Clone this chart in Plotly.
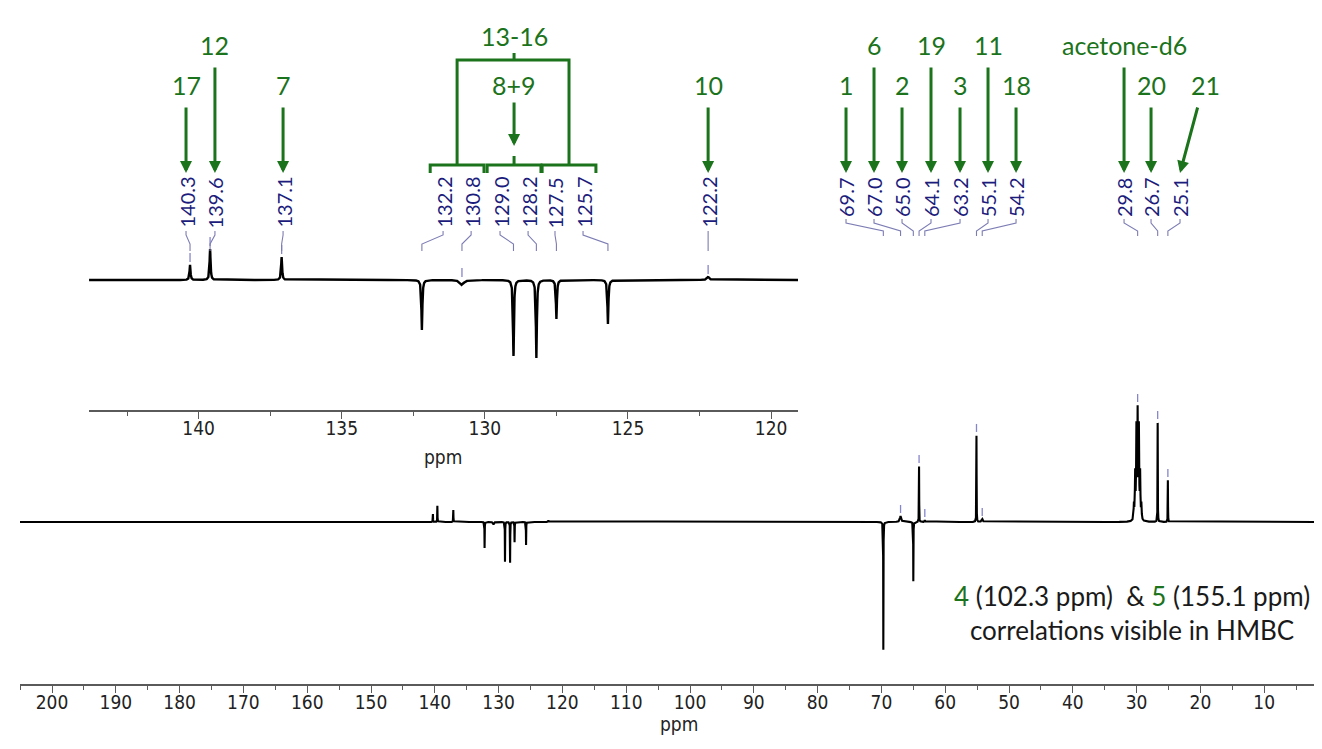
import numpy as np
import plotly.graph_objects as go

# ---------------- data ----------------
# aromatic region (also shown in the expanded inset)
arom_ppm = [140.3, 139.6, 137.1, 132.2, 130.8, 129.0, 128.2, 127.5, 125.7, 122.2]
arom_int = [7.9, 16.3, 12.1, -26.3, -2.6, -40.0, -41.0, -20.5, -23.2, 1.6]
arom_hw = [0.02, 0.02, 0.02, 0.02, 0.08, 0.02, 0.02, 0.02, 0.02, 0.05]

# aliphatic region
aliph_ppm = [69.7, 67.0, 65.0, 64.1, 63.2, 55.1, 54.2, 26.7, 25.1]
aliph_int = [-129.0, 6.0, -60.0, 56.0, 2.0, 87.0, 3.0, 100.0, 42.0]
aliph_hw = [0.02, 0.12, 0.02, 0.02, 0.05, 0.02, 0.1, 0.02, 0.02]

# acetone-d6 septet
solv_ppm = 29.84
solv_J = 0.195
solv_rel = [1, 3, 6, 7, 6, 3, 1]
solv_unit = 14.9
solv_hw = 0.05

inset_label_text = ["140.3", "139.6", "137.1", "132.2", "130.8", "129.0", "128.2", "127.5", "125.7", "122.2"]
inset_label_peak = [140.3, 139.6, 137.1, 132.2, 130.8, 129.0, 128.2, 127.5, 125.7, 122.2]
main_label_text = ["69.7", "67.0", "65.0", "64.1", "63.2", "55.1", "54.2", "29.8", "26.7", "25.1"]
main_label_peak = [69.7, 67.0, 65.0, 64.1, 63.2, 55.1, 54.2, 29.84, 26.7, 25.1]

inset_assign = [("17", 0, 2), ("12", 1, 1), ("7", 2, 2), ("10", 9, 2)]
main_assign = [("1", 0, 2), ("6", 1, 1), ("2", 2, 2), ("19", 3, 1), ("3", 4, 2),
               ("11", 5, 1), ("18", 6, 2), ("acetone-d6", 7, 1), ("20", 8, 2)]

main_ticks = list(range(0, 201, 10))
inset_ticks = [120, 125, 130, 135, 140]

# ---------------- layout constants ----------------
W, H = 1322, 749
GREEN = "#1b731b"
NAVY = "#1c1c7c"
LEAD = "#7c7cb4"
TICKBLUE = "#8585cc"
AXC = "#5a5a5a"
FONT_LBL = "Lato, 'Open Sans', sans-serif"
FONT_AX = "'DejaVu Sans Condensed', 'DejaVu Sans', sans-serif"

MAIN_RANGE = [205.02, -0.31]
INSET_RANGE = [143.83, 119.06]
MAIN_BASE, INSET_BASE = 514, 272
INSET_SCALE = 1.9
MAIN_AXIS_Y, INSET_AXIS_Y = 677, 403

# label columns (positions in ppm of their own axis)
inset_label_x = [140.44, 139.43, 137.05, 131.46, 130.48, 129.47, 128.49, 127.55, 126.57, 122.2]
main_label_x = [75.55, 71.16, 66.77, 62.23, 57.68, 53.29, 48.90, 31.97, 27.74, 23.2]


def py(y):
    return 1 - y / H


def lorentz_sum(x, centers, amps, hws):
    c = np.asarray(centers)[:, None]
    a = np.asarray(amps)[:, None]
    w = np.asarray(hws)[:, None]
    return (a / (1 + ((x[None, :] - c) / w) ** 2)).sum(axis=0)


all_ppm = list(arom_ppm) + list(aliph_ppm)
all_int = list(arom_int) + list(aliph_int)
all_hw = list(arom_hw) + list(aliph_hw)
for k, r in enumerate(solv_rel):
    all_ppm.append(solv_ppm + (k - 3) * solv_J)
    all_int.append(r * solv_unit)
    all_hw.append(solv_hw)


def spectrum(x):
    return lorentz_sum(x, all_ppm, all_int, all_hw)


x_main = np.arange(MAIN_RANGE[1], MAIN_RANGE[0], 0.004)
y_main = spectrum(x_main)
x_ins = np.arange(INSET_RANGE[1], INSET_RANGE[0], 0.004)
y_ins = spectrum(x_ins)

fig = go.Figure()
fig.add_trace(go.Scatter(x=x_main, y=y_main, mode="lines", xaxis="x", yaxis="y",
                         line=dict(color="black", width=2.1), hoverinfo="skip"))
fig.add_trace(go.Scatter(x=x_ins, y=y_ins, mode="lines", xaxis="x2", yaxis="y2",
                         line=dict(color="black", width=2.4), hoverinfo="skip"))

# small blue marks above peaks (main spectrum)
tx, ty = [], []
for p in main_label_peak:
    v = float(spectrum(np.array([p]))[0])
    if v > 0:
        tx += [p, p, None]
        ty += [v + 3, v + 11, None]
fig.add_trace(go.Scatter(x=tx, y=ty, mode="lines", xaxis="x", yaxis="y",
                         line=dict(color=TICKBLUE, width=1.3), hoverinfo="skip"))
# inset marks
tx, ty = [], []
for p in inset_label_peak:
    v = float(spectrum(np.array([p]))[0])
    if v > -5:
        top = max(v, 0)
        tx += [p, p, None]
        ty += [top + 3 / INSET_SCALE, top + 12 / INSET_SCALE, None]
fig.add_trace(go.Scatter(x=tx, y=ty, mode="lines", xaxis="x2", yaxis="y2",
                         line=dict(color=TICKBLUE, width=1.3), hoverinfo="skip"))

shapes = []
ann = []


def add_labels(texts, lx, peaks, xref, top_px, y_lead):
    for t, xl, p in zip(texts, lx, peaks):
        ann.append(dict(x=xl, y=py(top_px), xref=xref, yref="paper", text=t, textangle=-90,
                        showarrow=False, xanchor="center", yanchor="top",
                        font=dict(family=FONT_LBL, size=20, color=NAVY)))
        y0, y1, y2, y3 = y_lead
        shapes.append(dict(type="path", xref=xref, yref="paper",
                           path=f"M {xl},{py(y0)} L {xl},{py(y1)} L {p},{py(y2)} L {p},{py(y3)}",
                           line=dict(color=LEAD, width=1.1)))


add_labels(inset_label_text, inset_label_x, inset_label_peak, "x2", 167, (223, 227, 236, 243))
add_labels(main_label_text, main_label_x, main_label_peak, "x", 167, (211, 215, 223, 228))

ROW_Y = {1: 37, 2: 77}
ARROW_TAIL = {1: 58, 2: 98}
TIP = 165


def green_text(x, xref, y, t):
    ann.append(dict(x=x, y=py(y), xref=xref, yref="paper", text=t, showarrow=False,
                    xanchor="center", yanchor="middle",
                    font=dict(family=FONT_LBL, size=25, color=GREEN)))


def green_arrow(x, xref, y_tip, y_tail, dx=0):
    ann.append(dict(x=x, y=py(y_tip), xref=xref, yref="paper", text="", showarrow=True,
                    ax=dx, ay=-(y_tip - y_tail), arrowhead=2, arrowsize=0.8,
                    arrowwidth=3, arrowcolor=GREEN))


for t, i, row in inset_assign:
    green_text(inset_label_x[i], "x2", ROW_Y[row], t)
    green_arrow(inset_label_x[i], "x2", TIP, ARROW_TAIL[row])
for t, i, row in main_assign:
    green_text(main_label_x[i], "x", ROW_Y[row], t)
    green_arrow(main_label_x[i], "x", TIP, ARROW_TAIL[row])
# label 21 with slanted arrow
green_text(19.28, "x", 77, "21")
green_arrow(main_label_x[9], "x", TIP, 98, dx=18)

# brackets 13-16 and 8+9
pairs = [(3, 4), (5, 6), (7, 8)]
cents = []
for a, b in pairs:
    xa = inset_label_x[a] + 0.45
    xb = inset_label_x[b] - 0.45
    cents.append((xa + xb) / 2)
    shapes.append(dict(type="path", xref="x2", yref="paper",
                       path=f"M {xa},{py(165)} L {xa},{py(157)} L {xb},{py(157)} L {xb},{py(165)}",
                       line=dict(color=GREEN, width=3)))
c_mid = cents[1]
shapes.append(dict(type="path", xref="x2", yref="paper",
                   path=f"M {c_mid},{py(157)} L {c_mid},{py(148)}", line=dict(color=GREEN, width=3)))
shapes.append(dict(type="path", xref="x2", yref="paper",
                   path=f"M {cents[0]},{py(157)} L {cents[0]},{py(52)} L {cents[2]},{py(52)} L {cents[2]},{py(157)}",
                   line=dict(color=GREEN, width=3)))
shapes.append(dict(type="path", xref="x2", yref="paper",
                   path=f"M {c_mid},{py(52)} L {c_mid},{py(45)}", line=dict(color=GREEN, width=3)))
green_text(c_mid, "x2", 28, "13-16")
green_text(c_mid, "x2", 77, "8+9")
green_arrow(c_mid, "x2", 138, 93)

# axis titles
ann.append(dict(x=671 / W, y=py(716), xref="paper", yref="paper", text="ppm", showarrow=False,
                xanchor="center", yanchor="middle", font=dict(family=FONT_AX, size=19, color="#222")))
ann.append(dict(x=435 / W, y=py(449), xref="paper", yref="paper", text="ppm", showarrow=False,
                xanchor="center", yanchor="middle", font=dict(family=FONT_AX, size=19, color="#222")))
# the "0" tick label at the right edge (partly cut, as in the reference)
ann.append(dict(x=0, y=py(MAIN_AXIS_Y + 18), xref="x", yref="paper", text="0", showarrow=False,
                xanchor="center", yanchor="middle", font=dict(family=FONT_AX, size=19, color="#222")))

# HMBC note
ann.append(dict(x=1124 / W, y=py(605), xref="paper", yref="paper", showarrow=False,
                xanchor="center", yanchor="middle", align="center",
                text=(f"<span style='color:{GREEN}'>4</span> (102.3 ppm)&nbsp; &amp; "
                      f"<span style='color:{GREEN}'>5</span> (155.1 ppm)<br>correlations visible in HMBC"),
                font=dict(family=FONT_LBL, size=26, color="#1a1a1a")))

axis_common = dict(showgrid=False, zeroline=False, showline=True, linecolor=AXC, linewidth=1.5,
                   ticks="outside", ticklen=7, tickwidth=1.2, tickcolor=AXC,
                   tickfont=dict(family=FONT_AX, size=19, color="#222"),
                   ticklabelstandoff=-7, fixedrange=True)

fig.update_layout(
    width=W, height=H, margin=dict(l=0, r=0, t=0, b=0),
    paper_bgcolor="white", plot_bgcolor="rgba(0,0,0,0)", showlegend=False,
    xaxis=dict(domain=[12 / W, 1], range=MAIN_RANGE, anchor="free", position=py(MAIN_AXIS_Y),
               tickmode="array", tickvals=main_ticks[1:], ticktext=[str(v) for v in main_ticks[1:]],
               minor=dict(dtick=5, tick0=0, ticks="outside", ticklen=4, tickcolor=AXC, tickwidth=1),
               **axis_common),
    yaxis=dict(domain=[0, 1], range=[-(H - MAIN_BASE), MAIN_BASE], visible=False, fixedrange=True),
    xaxis2=dict(domain=[81 / W, 790 / W], range=INSET_RANGE, anchor="free", position=py(INSET_AXIS_Y),
                tickmode="array", tickvals=inset_ticks, ticktext=[str(v) for v in inset_ticks],
                minor=dict(dtick=2.5, tick0=0, ticks="outside", ticklen=4, tickcolor=AXC, tickwidth=1),
                **axis_common),
    yaxis2=dict(domain=[0, 1], range=[-(H - INSET_BASE) / INSET_SCALE, INSET_BASE / INSET_SCALE],
                visible=False, overlaying="y", anchor="x2", fixedrange=True),
    shapes=shapes, annotations=ann,
)

fig.write_html("out.html")
